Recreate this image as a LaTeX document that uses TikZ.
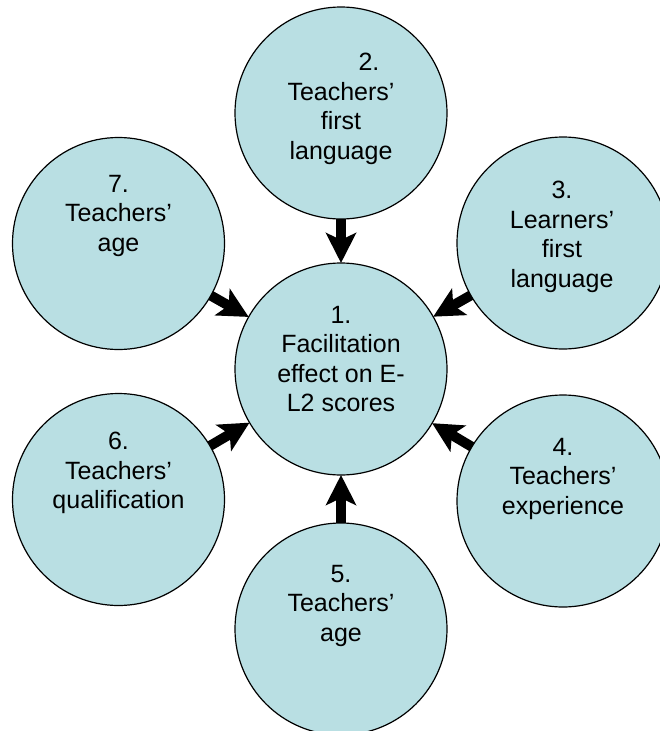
\documentclass[tikz,border=0pt]{standalone}
\usepackage{fontspec}
\setmainfont{Liberation Sans}
\usetikzlibrary{arrows.meta}
\definecolor{bubble}{RGB}{185,223,227}
\begin{document}
\begin{tikzpicture}[x=1pt,y=-1pt,
  bubble/.style={circle,draw=black,line width=1.2pt,fill=bubble,minimum size=212pt,inner sep=0pt,outer sep=0pt},
  label/.style={anchor=north,inner sep=0pt,align=center,font=\fontsize{25}{29.5}\selectfont},
  bigarrow/.style={line width=10pt,-{Stealth[length=30pt,width=30pt,inset=7pt]}}]
\useasboundingbox (0,0) rectangle (659,731);
\node[bubble] (c1) at (341,369) {};
\node[bubble] (c2) at (341,113) {};
\node[bubble] (c3) at (563,243) {};
\node[bubble] (c4) at (563,501) {};
\node[bubble] (c5) at (341,629) {};
\node[bubble] (c6) at (118.5,499.5) {};
\node[bubble] (c7) at (118.5,243.5) {};
\node[label] (t1) at (341,306) {1.\\Facilitation\\effect on E-\\L2 scores};
\node[label] (t2) at (341,53) {\hspace*{56pt}2.\\Teachers’\\first\\language};
\node[label] (t3) at (562,181) {3.\\Learners’\\first\\language};
\node[label] (t4) at (563,438) {4.\\Teachers’\\experience};
\node[label] (t5) at (341,565) {5.\\Teachers’\\age};
\node[label] (t6) at (118.5,432) {6.\\Teachers’\\qualification};
\node[label] (t7) at (118.5,175) {7.\\Teachers’\\age};
\foreach \n in {c2,c3,c4,c5,c6,c7}
  \draw[bigarrow] (\n) -- (c1);
\end{tikzpicture}
\end{document}
